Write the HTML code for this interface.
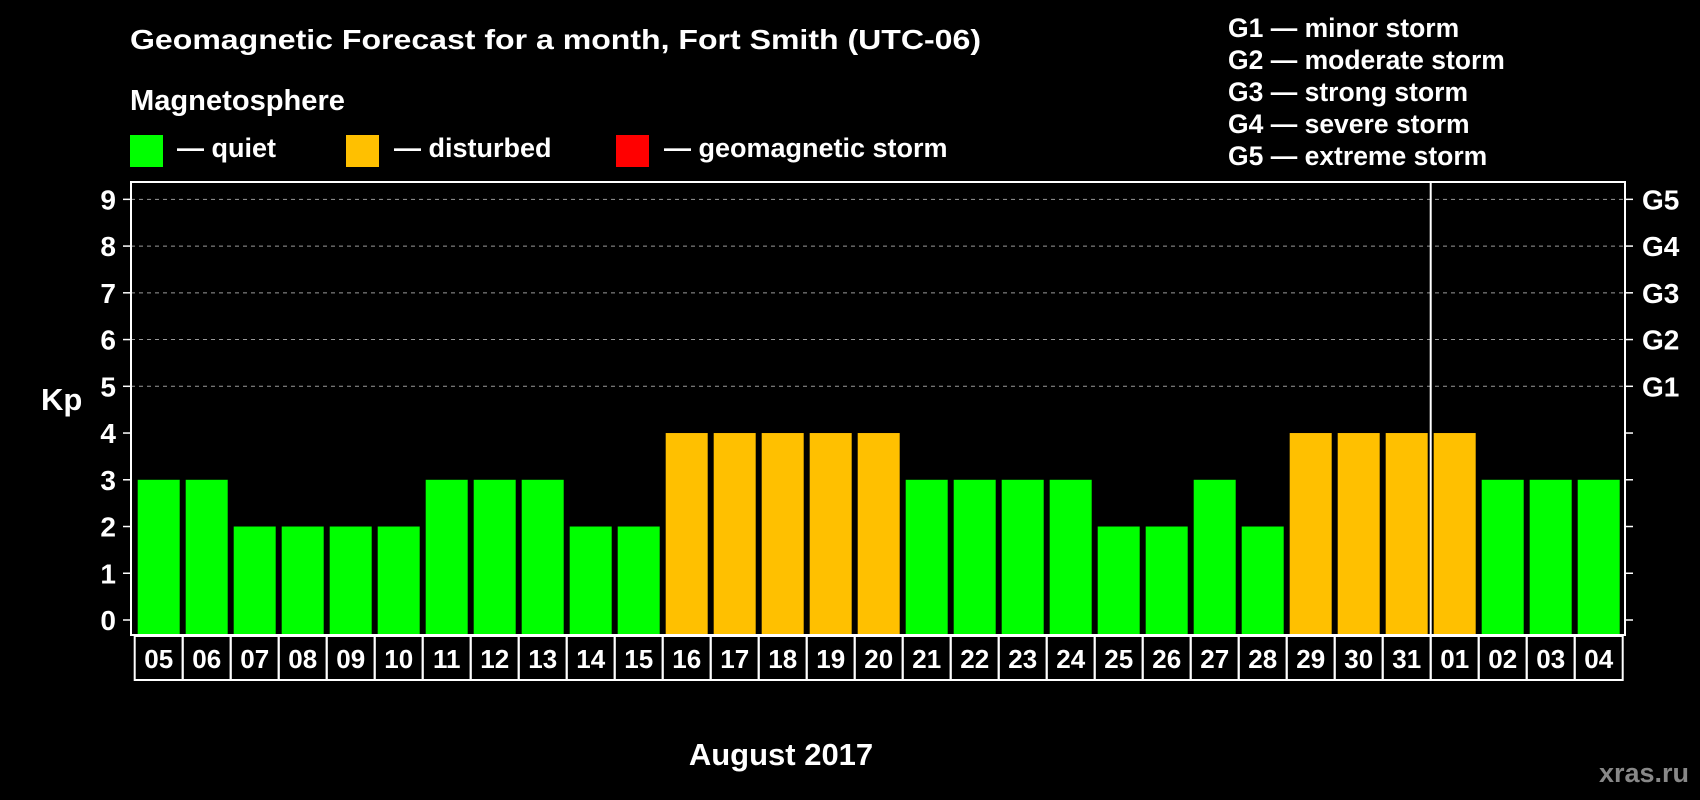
<!DOCTYPE html>
<html><head><meta charset="utf-8"><style>
html,body{margin:0;padding:0;background:#000;}
svg{display:block;font-family:"Liberation Sans",Arial,sans-serif;font-weight:bold;}
</style></head><body>
<svg id="chart" width="1700" height="800" viewBox="0 0 1700 800">
<rect x="0" y="0" width="1700" height="800" fill="#000"/>
<text x="130" y="49" fill="#fff" font-size="28" textLength="851" lengthAdjust="spacingAndGlyphs">Geomagnetic Forecast for a month, Fort Smith (UTC-06)</text>
<text x="130" y="110" fill="#fff" font-size="29" textLength="215" lengthAdjust="spacingAndGlyphs">Magnetosphere</text>
<g>
<rect x="130" y="135" width="33" height="32" fill="#00ff00"/>
<text x="177" y="157" fill="#fff" font-size="27">— quiet</text></g>
<g>
<rect x="346" y="135" width="33" height="32" fill="#ffc000"/>
<text x="394" y="157" fill="#fff" font-size="27">— disturbed</text></g>
<g>
<rect x="616" y="135" width="33" height="32" fill="#ff0000"/>
<text x="664" y="157" fill="#fff" font-size="27">— geomagnetic storm</text></g>
<g font-size="26.5" fill="#fff">
<text x="1228" y="37">G1 — minor storm</text>
<text x="1228" y="69">G2 — moderate storm</text>
<text x="1228" y="101">G3 — strong storm</text>
<text x="1228" y="133">G4 — severe storm</text>
<text x="1228" y="165">G5 — extreme storm</text>
</g>
<text x="41" y="410" fill="#fff" font-size="31">Kp</text>
<text x="781" y="765" fill="#fff" font-size="31" text-anchor="middle">August 2017</text>
<text x="1689" y="782" fill="#888" font-size="27" text-anchor="end">xras.ru</text>
<g id="plot"></g>
</svg>
<script>
const days = ["05","06","07","08","09","10","11","12","13","14","15","16","17","18","19","20","21","22","23","24","25","26","27","28","29","30","31","01","02","03","04"];
const kpValues = [3,3,2,2,2,2,3,3,3,2,2,4,4,4,4,4,3,3,3,3,2,2,3,2,4,4,4,4,3,3,3];
const yTicks = [0,1,2,3,4,5,6,7,8,9];
const gLabels = ["G1","G2","G3","G4","G5"];
const gLevels = [5,6,7,8,9];
const monthBreakIndex = 27;

(function(){
const NS = "http://www.w3.org/2000/svg";
const plot = document.getElementById("plot");
const pLeft = 131, pRight = 1625, pTop = 182, pBottom = 635;
const y0 = 620, yPerKp = 46.74;
const firstBar = 137.7, pitch = 48, barW = 42;
function yScale(v){ return y0 - v * yPerKp; }
function xScale(i){ return firstBar + i * pitch; }
function mk(tag, attrs){ const e = document.createElementNS(NS, tag); for (const k in attrs) e.setAttribute(k, attrs[k]); plot.appendChild(e); return e; }
function color(v){ return v >= 5 ? "#ff0000" : (v >= 4 ? "#ffc000" : "#00ff00"); }

gLevels.forEach(function(v){
  const g = mk("line", {x1:pLeft, x2:pRight, y1:yScale(v), y2:yScale(v), stroke:"#999", "stroke-width":1, "stroke-dasharray":"4,4"});
  
  
});
kpValues.forEach(function(v, i){
  const r = mk("rect", {x:xScale(i), y:yScale(v), width:barW, height:pBottom - yScale(v), fill:color(v)});
  
  
});
const fr = mk("rect", {x:pLeft, y:pTop, width:pRight-pLeft, height:pBottom-pTop, fill:"none", stroke:"#fff", "stroke-width":2});


const divX = xScale(monthBreakIndex) - (pitch - barW)/2;
const dv = mk("line", {x1:divX, x2:divX, y1:pTop, y2:pBottom, stroke:"#fff", "stroke-width":2});


yTicks.forEach(function(v){
  const y = yScale(v);
  const t1 = mk("line", {x1:pLeft-8, x2:pLeft, y1:y, y2:y, stroke:"#fff", "stroke-width":1.5});
  
  
  const t2 = mk("line", {x1:pRight, x2:pRight+8, y1:y, y2:y, stroke:"#fff", "stroke-width":1.5});
  
  
  const tx = mk("text", {x:116, y:y+10, fill:"#fff", "font-size":28, "text-anchor":"end"});
  tx.textContent = String(v);
  
  
});
gLabels.forEach(function(g, i){
  const tx = mk("text", {x:1642, y:yScale(gLevels[i])+10, fill:"#fff", "font-size":28});
  tx.textContent = g;
  
  
});
const boxTop = 636, boxBot = 680;
days.forEach(function(d, i){
  const bx = xScale(i) - 3;
  const r = mk("rect", {x:bx, y:boxTop, width:pitch, height:boxBot-boxTop, fill:"none", stroke:"#fff", "stroke-width":2});
  
  
  const tx = mk("text", {x:xScale(i)+barW/2, y:668, fill:"#fff", "font-size":26, "text-anchor":"middle"});
  tx.textContent = d;
  
  
});
})();
</script>
</body></html>
